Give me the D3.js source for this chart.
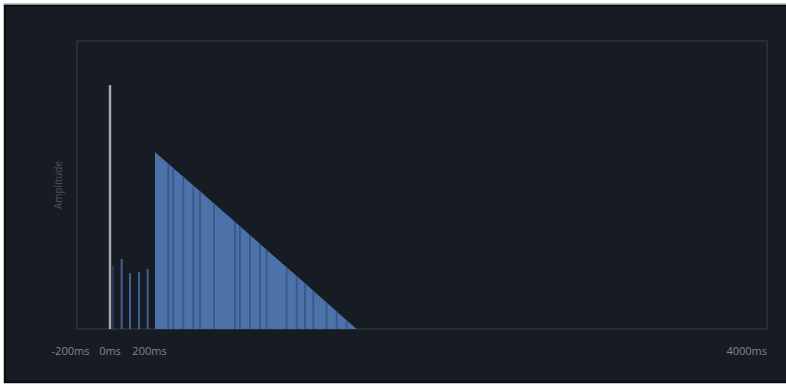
<!DOCTYPE html>
<html>
<head>
<meta charset="utf-8">
<script src="https://cdn.jsdelivr.net/npm/d3@7"></script>
<style>
  html, body { margin: 0; padding: 0; background: #ffffff; }
  svg { display: block; font-family: "Open Sans", "DejaVu Sans", sans-serif; }
</style>
</head>
<body>
<div id="chart"></div>
<script>
// tick labels on the time axis (ms)
var tickValues = [-200, 0, 200, 4000];

// direct sound
var directSound = [{t: 0, a: 0.847}];

// early reflections (ms, amplitude)
var earlyTimes = [15, 59, 101, 147, 191];
var earlyAmps  = [0.22, 0.243, 0.194, 0.198, 0.208];

// late tail (ms, amplitude)
var tailTimes = [234, 316, 346, 408, 470, 511, 597, 726, 757, 818, 880, 921, 1044, 1106, 1157, 1208, 1290, 1352, 1413, 1475];
var tailAmps  = [0.615, 0.574, 0.559, 0.529, 0.498, 0.478, 0.436, 0.372, 0.357, 0.326, 0.296, 0.275, 0.214, 0.184, 0.159, 0.133, 0.092, 0.061, 0.030, 0];

var width = 786,
  height = 386;

var frame = {left: 77, right: 767, top: 41, bottom: 329};

var svg = d3.select("#chart")
  .append("svg")
  .attr("width", width)
  .attr("height", height)

// dark panel
svg.append("rect")
  .attr("x", 5).attr("y", 5)
  .attr("width", 790).attr("height", 377)
  .attr("fill", "#171b24")
  .attr("stroke", "#0b0d11")
  .attr("stroke-width", 2.5)
svg.append("line")
  .attr("x1", 4).attr("x2", width)
  .attr("y1", 4.5).attr("y2", 4.5)
  .attr("stroke", "#8e9095")
  .attr("stroke-width", 1.2)

// the first 200ms are drawn wider than the rest of the time axis
var x = d3.scaleLinear()
  .domain([-200, 200, 4000])
  .range([70.5, 149.5, frame.right])

var y = d3.scaleLinear()
  .domain([0, 1])
  .range([frame.bottom, frame.bottom - 288])

// plot frame
svg.append("rect")
  .attr("x", frame.left)
  .attr("y", frame.top)
  .attr("width", frame.right - frame.left)
  .attr("height", frame.bottom - frame.top)
  .attr("fill", "none")
  .attr("stroke", "#2e333e")
  .attr("stroke-width", 1.5)

// late tail: filled envelope and darker reflection lines
var tail = tailTimes.map(function(t, i) { return {t: t, a: tailAmps[i]} })

var area = d3.area()
  .x(function(d) { return x(d.t) })
  .y0(y(0))
  .y1(function(d) { return y(d.a) })

svg.append("path")
  .datum(tail)
  .attr("d", area)
  .attr("fill", "#4b72a9")

svg.selectAll(".tail-line")
  .data(tail.slice(1, -1))
  .enter().append("line")
  .attr("class", "tail-line")
  .attr("x1", function(d) { return x(d.t) })
  .attr("x2", function(d) { return x(d.t) })
  .attr("y1", y(0))
  .attr("y2", function(d) { return y(d.a) })
  .attr("stroke", "#34507c")
  .attr("stroke-width", 1.8)
  .attr("opacity", 0.75)

// early reflections
var early = earlyTimes.map(function(t, i) { return {t: t, a: earlyAmps[i]} })

svg.selectAll(".early")
  .data(early)
  .enter().append("rect")
  .attr("class", "early")
  .attr("x", function(d) { return x(d.t) - 1 })
  .attr("y", function(d) { return y(d.a) })
  .attr("width", 2)
  .attr("height", function(d) { return y(0) - y(d.a) })
  .attr("fill", "#46669a")
  .attr("opacity", function(d, i) { return i == 0 ? 0.4 : 0.95 })

// direct sound
svg.selectAll(".direct")
  .data(directSound)
  .enter().append("rect")
  .attr("class", "direct")
  .attr("x", function(d) { return x(d.t) - 1.2 })
  .attr("y", function(d) { return y(d.a) })
  .attr("width", 2.4)
  .attr("height", function(d) { return y(0) - y(d.a) })
  .attr("fill", "#a7abb2")

// time labels
svg.selectAll(".tick-label")
  .data(tickValues)
  .enter().append("text")
  .attr("class", "tick-label")
  .attr("x", function(d) { return x(d) })
  .attr("y", 355)
  .attr("text-anchor", function(d, i) { return i == tickValues.length - 1 ? "end" : "middle" })
  .attr("font-size", 11)
  .attr("fill", "#80858e")
  .text(function(d) { return d + "ms" })

// axis title
svg.append("text")
  .attr("transform", "translate(62," + ((frame.top + frame.bottom) / 2) + ") rotate(-90)")
  .attr("text-anchor", "middle")
  .attr("font-size", 10)
  .attr("fill", "#4d525d")
  .text("Amplitude")
</script>
</body>
</html>
